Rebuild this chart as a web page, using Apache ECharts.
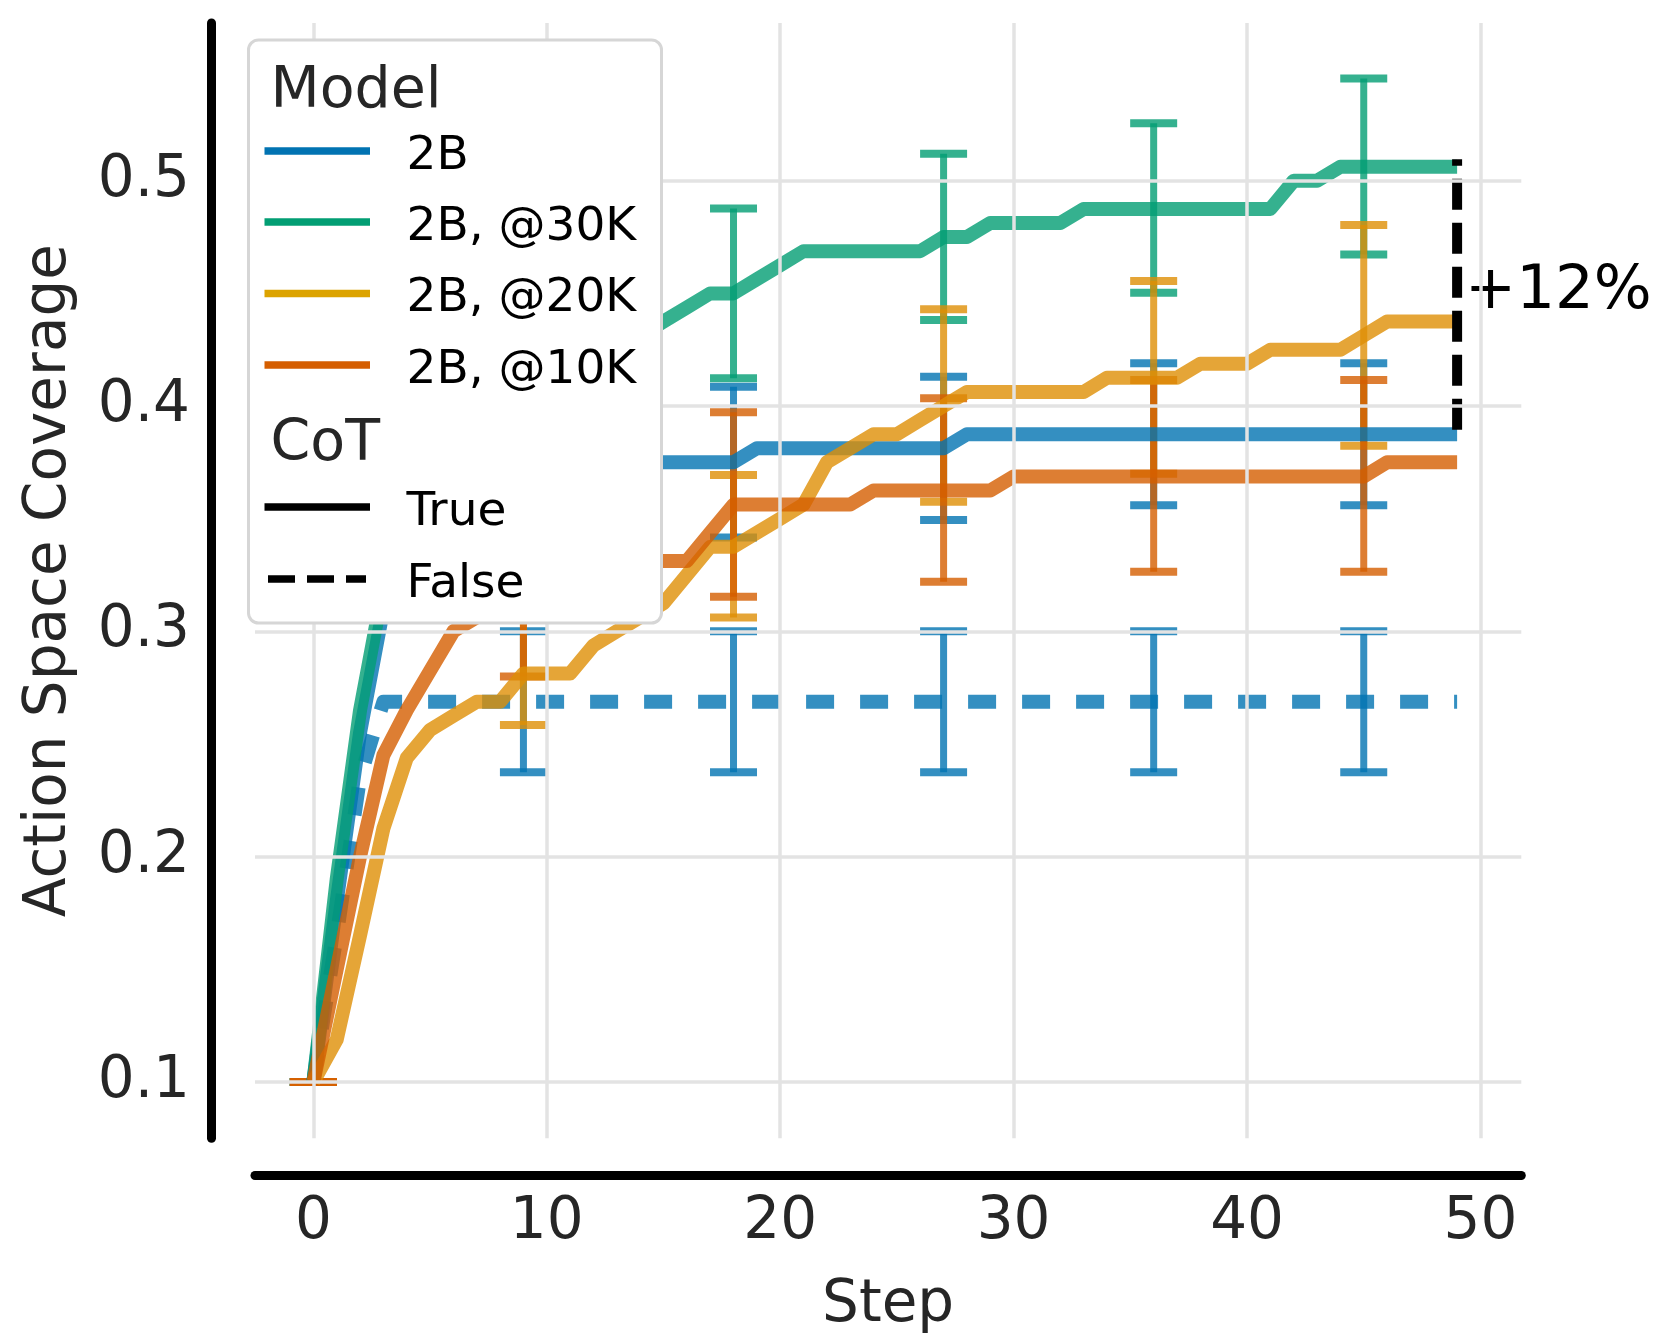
<!DOCTYPE html>
<html>
<head>
<meta charset="utf-8">
<script src="https://cdn.jsdelivr.net/npm/echarts@6/dist/echarts.min.js"></script>
<style>
html,body{margin:0;padding:0;background:#ffffff;}
#chart{width:1660px;height:1344px;}
</style>
</head>
<body>
<div id="chart"></div>
<script>
// ---------------- DATA ----------------
const steps = [0,1,2,3,4,5,6,7,8,9,10,11,12,13,14,15,16,17,18,19,20,21,22,23,24,25,26,27,28,29,30,31,32,33,34,35,36,37,38,39,40,41,42,43,44,45,46,47,48,49];

const cov2BTrue = [0.1,0.18,0.255,0.31,0.33,0.345,0.355,0.36,0.3625,0.3625,
  0.36875,0.36875,0.375,0.375,0.375,0.375,0.375,0.375,0.375,0.38125,
  0.38125,0.38125,0.38125,0.38125,0.38125,0.38125,0.38125,0.38125,0.3875,0.3875,
  0.3875,0.3875,0.3875,0.3875,0.3875,0.3875,0.3875,0.3875,0.3875,0.3875,
  0.3875,0.3875,0.3875,0.3875,0.3875,0.3875,0.3875,0.3875,0.3875,0.3875];

const cov2BFalse = [0.1,0.165,0.235,0.26875,0.26875,0.26875,0.26875,0.26875,0.26875,0.26875,
  0.26875,0.26875,0.26875,0.26875,0.26875,0.26875,0.26875,0.26875,0.26875,0.26875,
  0.26875,0.26875,0.26875,0.26875,0.26875,0.26875,0.26875,0.26875,0.26875,0.26875,
  0.26875,0.26875,0.26875,0.26875,0.26875,0.26875,0.26875,0.26875,0.26875,0.26875,
  0.26875,0.26875,0.26875,0.26875,0.26875,0.26875,0.26875,0.26875,0.26875,0.26875];

const cov30K = [0.1,0.19,0.265,0.32,0.345,0.365,0.38,0.39,0.40,0.41,
  0.415,0.42,0.425,0.43,0.431,0.4375,0.44375,0.45,0.45,0.45625,
  0.4625,0.46875,0.46875,0.46875,0.46875,0.46875,0.46875,0.475,0.475,0.48125,
  0.48125,0.48125,0.48125,0.4875,0.4875,0.4875,0.4875,0.4875,0.4875,0.4875,
  0.4875,0.4875,0.5,0.5,0.50625,0.50625,0.50625,0.50625,0.50625,0.50625];

const cov20K = [0.1,0.11875,0.165,0.2125,0.24375,0.25625,0.2625,0.26875,0.26875,0.28125,
  0.28125,0.28125,0.29375,0.3,0.30625,0.3125,0.325,0.3375,0.3375,0.34375,
  0.35,0.35625,0.375,0.38125,0.3875,0.3875,0.39375,0.4,0.40625,0.40625,
  0.40625,0.40625,0.40625,0.40625,0.4125,0.4125,0.4125,0.4125,0.41875,0.41875,
  0.41875,0.425,0.425,0.425,0.425,0.43125,0.4375,0.4375,0.4375,0.4375];

const cov10K = [0.1,0.15,0.2,0.245,0.265,0.2825,0.3,0.30625,0.3125,0.3125,
  0.31875,0.325,0.325,0.33125,0.33125,0.33125,0.33125,0.34375,0.35625,0.35625,
  0.35625,0.35625,0.35625,0.35625,0.3625,0.3625,0.3625,0.3625,0.3625,0.3625,
  0.36875,0.36875,0.36875,0.36875,0.36875,0.36875,0.36875,0.36875,0.36875,0.36875,
  0.36875,0.36875,0.36875,0.36875,0.36875,0.36875,0.375,0.375,0.375,0.375];

// error bars (steps, lower, upper)
const errSteps = [0, 9, 18, 27, 36, 45];
const err2BTrueLo  = [0.1, 0.33,   0.3417, 0.3494, 0.356,  0.356];
const err2BTrueHi  = [0.1, 0.395,  0.4086, 0.413,  0.419,  0.419];
const err2BFalseLo = [0.1, 0.2375, 0.2375, 0.2375, 0.2375, 0.2375];
const err2BFalseHi = [0.1, 0.30,   0.30,   0.30,   0.30,   0.30];
const err30KLo     = [0.1, 0.37,   0.4123, 0.4382, 0.4503, 0.4673];
const err30KHi     = [0.1, 0.45,   0.4877, 0.512,  0.5255, 0.5454];
const err20KLo     = [0.1, 0.2584, 0.3062, 0.3575, 0.370,  0.3824];
const err20KHi     = [0.1, 0.307,  0.3694, 0.4429, 0.4555, 0.4803];
const err10KLo     = [0.1, 0.28,   0.3154, 0.322,  0.3265, 0.3265];
const err10KHi     = [0.1, 0.345,  0.3972, 0.4034, 0.4115, 0.4115];

// annotation (+12%) between the 2B and 2B@30K final values
const annotStep = 49;
const annotRange = [0.3895, 0.5095];
const annotText = '+12%';

const yTicks = [0.1, 0.2, 0.3, 0.4, 0.5];
const xTicks = [0, 10, 20, 30, 40, 50];

const modelNames = ['2B', '2B, @30K', '2B, @20K', '2B, @10K'];
const cotNames = ['True', 'False'];

// ---------------- STYLE ----------------
const C_BLUE = '#0173B2', C_GREEN = '#029E73', C_YEL = '#DE8F05', C_ORG = '#D55E00';
const FONT = '"DejaVu Sans", "Liberation Sans", sans-serif';
const TXT = '#262626';

const chart = echarts.init(document.getElementById('chart'), null, {renderer: 'canvas'});

function lineSeries(name, vals, color, dashed, z) {
  return {
    type: 'line', name: name,
    data: steps.map((s, i) => [s, vals[i]]),
    showSymbol: false, symbol: 'none', silent: true, animation: false, z: z,
    lineStyle: {color: color, width: 14, opacity: 0.8, join: 'round', cap: 'butt',
      type: dashed ? [28, 26] : 'solid'}
  };
}
function errSeries(name, lo, hi, color, z) {
  return {
    type: 'custom', name: name, silent: true, animation: false, z: z,
    data: errSteps.map((s, i) => [s, lo[i], hi[i]]),
    renderItem: function (params, api) {
      const x = api.value(0);
      const p1 = api.coord([x, api.value(1)]);
      const p2 = api.coord([x, api.value(2)]);
      const hw = 23.5;
      const st = {stroke: color, lineWidth: 7, opacity: 0.8};
      const sc = {stroke: color, lineWidth: 8, opacity: 0.8};
      return {
        type: 'group',
        children: [
          {type: 'line', shape: {x1: p1[0], y1: p1[1], x2: p2[0], y2: p2[1]}, style: st},
          {type: 'line', shape: {x1: p1[0] - hw, y1: p1[1], x2: p1[0] + hw, y2: p1[1]}, style: sc},
          {type: 'line', shape: {x1: p2[0] - hw, y1: p2[1], x2: p2[0] + hw, y2: p2[1]}, style: sc}
        ]
      };
    }
  };
}
function isMult(v, m) { const r = v / m; return Math.abs(r - Math.round(r)) < 1e-6; }

const series = [
  // grid lines (drawn through the axes' scales)
  {
    type: 'line', data: [], z: 0, silent: true, animation: false,
    markLine: {
      silent: true, symbol: ['none', 'none'], animation: false,
      label: {show: false},
      lineStyle: {color: '#e3e3e3', width: 3.5, type: 'solid'},
      data: yTicks.map(v => ({yAxis: v})).concat(xTicks.map(v => ({xAxis: v})))
    }
  },
  lineSeries('2B True', cov2BTrue, C_BLUE, false, 2),
  errSeries('2B True err', err2BTrueLo, err2BTrueHi, C_BLUE, 2),
  lineSeries('2B False', cov2BFalse, C_BLUE, true, 2),
  errSeries('2B False err', err2BFalseLo, err2BFalseHi, C_BLUE, 2),
  lineSeries('2B, @30K', cov30K, C_GREEN, false, 2),
  errSeries('30K err', err30KLo, err30KHi, C_GREEN, 2),
  lineSeries('2B, @20K', cov20K, C_YEL, false, 2),
  errSeries('20K err', err20KLo, err20KHi, C_YEL, 2),
  lineSeries('2B, @10K', cov10K, C_ORG, false, 2),
  errSeries('10K err', err10KLo, err10KHi, C_ORG, 2),
  // annotation dashed bracket
  {
    type: 'line', silent: true, animation: false, z: 3, symbol: 'none', showSymbol: false,
    data: [[annotStep, annotRange[0]], [annotStep, annotRange[1]]],
    lineStyle: {color: '#000', width: 10, type: [31, 13], cap: 'butt'}
  },
  {
    type: 'scatter', silent: true, animation: false, z: 3, symbolSize: 0,
    itemStyle: {opacity: 1},
    data: [[annotStep, 0.4505]],
    label: {show: true, position: 'right', distance: 8, formatter: annotText,
      fontSize: 61, fontFamily: FONT, color: '#000000', opacity: 1, textBorderWidth: 0}
  }
];

// legend drawn as graphic (not data)
const LX = 248.5, LY = 40, LW = 413, LH = 583;
const hx1 = 264.5, hx2 = 370, tx = 406.5;
const legendColors = [C_BLUE, C_GREEN, '#DCA300', C_ORG];
const modelY = [151, 222, 293.5, 365];
const cotY = [507, 579];
const TY = 5.5; // text vertical nudge (cap centre vs em centre)
const ZL = 100;
const legendChildren = [
  {type: 'rect', z: ZL, shape: {x: LX, y: LY, width: LW, height: LH, r: 10},
   style: {fill: '#ffffff', stroke: '#d6d6d6', lineWidth: 3}},
  {type: 'text', z: ZL + 1, x: 270.5, y: 87 + TY, style: {text: 'Model', font: '57px ' + FONT, fill: TXT,
    textAlign: 'left', textVerticalAlign: 'middle', align: 'left', verticalAlign: 'middle'}},
  {type: 'text', z: ZL + 1, x: 270.5, y: 440 + TY, style: {text: 'CoT', font: '57px ' + FONT, fill: TXT,
    textAlign: 'left', textVerticalAlign: 'middle', align: 'left', verticalAlign: 'middle'}}
];
modelNames.forEach((n, i) => {
  legendChildren.push({type: 'line', z: ZL + 1, shape: {x1: hx1, y1: modelY[i], x2: hx2, y2: modelY[i]},
    style: {stroke: legendColors[i], lineWidth: 7.5}});
  legendChildren.push({type: 'text', z: ZL + 1, x: tx, y: modelY[i] + TY, style: {text: n, font: '47px ' + FONT, fill: '#000',
    textAlign: 'left', textVerticalAlign: 'middle', align: 'left', verticalAlign: 'middle'}});
});
cotNames.forEach((n, i) => {
  legendChildren.push({type: 'line', z: ZL + 1, shape: {x1: i ? 268 : hx1, y1: cotY[i], x2: i ? 366 : hx2, y2: cotY[i]},
    style: {stroke: '#000', lineWidth: 7.5, lineDash: i ? [27, 12] : null}});
  legendChildren.push({type: 'text', z: ZL + 1, x: tx, y: cotY[i] + TY, style: {text: n, font: '47px ' + FONT, fill: '#000',
    textAlign: 'left', textVerticalAlign: 'middle', align: 'left', verticalAlign: 'middle'}});
});

const option = {
  backgroundColor: '#ffffff',
  animation: false,
  textStyle: {fontFamily: FONT},
  grid: {left: 255, top: 23, width: 1266.3, height: 1115.3, containLabel: false, outerBoundsMode: 'none'},
  xAxis: {
    type: 'value', min: -2.5, max: 51.75, interval: 2.5,
    offset: 37,
    name: 'Step', nameLocation: 'middle', nameGap: 102,
    nameTextStyle: {fontSize: 58, color: TXT, fontFamily: FONT},
    axisLine: {show: true, onZero: false, lineStyle: {color: '#000', width: 9}},
    axisTick: {show: false},
    splitLine: {show: false},
    axisLabel: {show: true, margin: 19, fontSize: 58, color: TXT, fontFamily: FONT,
      showMinLabel: true, showMaxLabel: true,
      formatter: v => (isMult(v, 10) ? String(Math.round(v)) : '')}
  },
  yAxis: {
    type: 'value', min: 0.075, max: 0.57, interval: 0.025,
    offset: 44,
    name: 'Action Space Coverage', nameLocation: 'middle', nameGap: 132, nameRotate: 90,
    nameTextStyle: {fontSize: 58, color: TXT, fontFamily: FONT},
    axisLine: {show: true, onZero: false, lineStyle: {color: '#000', width: 9}},
    axisTick: {show: false},
    splitLine: {show: false},
    axisLabel: {show: true, margin: 21, fontSize: 58, color: TXT, fontFamily: FONT,
      formatter: v => (isMult(v, 0.1) ? v.toFixed(1) : '')}
  },
  series: series,
  graphic: [{type: 'group', z: ZL, zlevel: 1, silent: true, children: legendChildren}]
};
chart.setOption(option);
</script>
</body>
</html>
